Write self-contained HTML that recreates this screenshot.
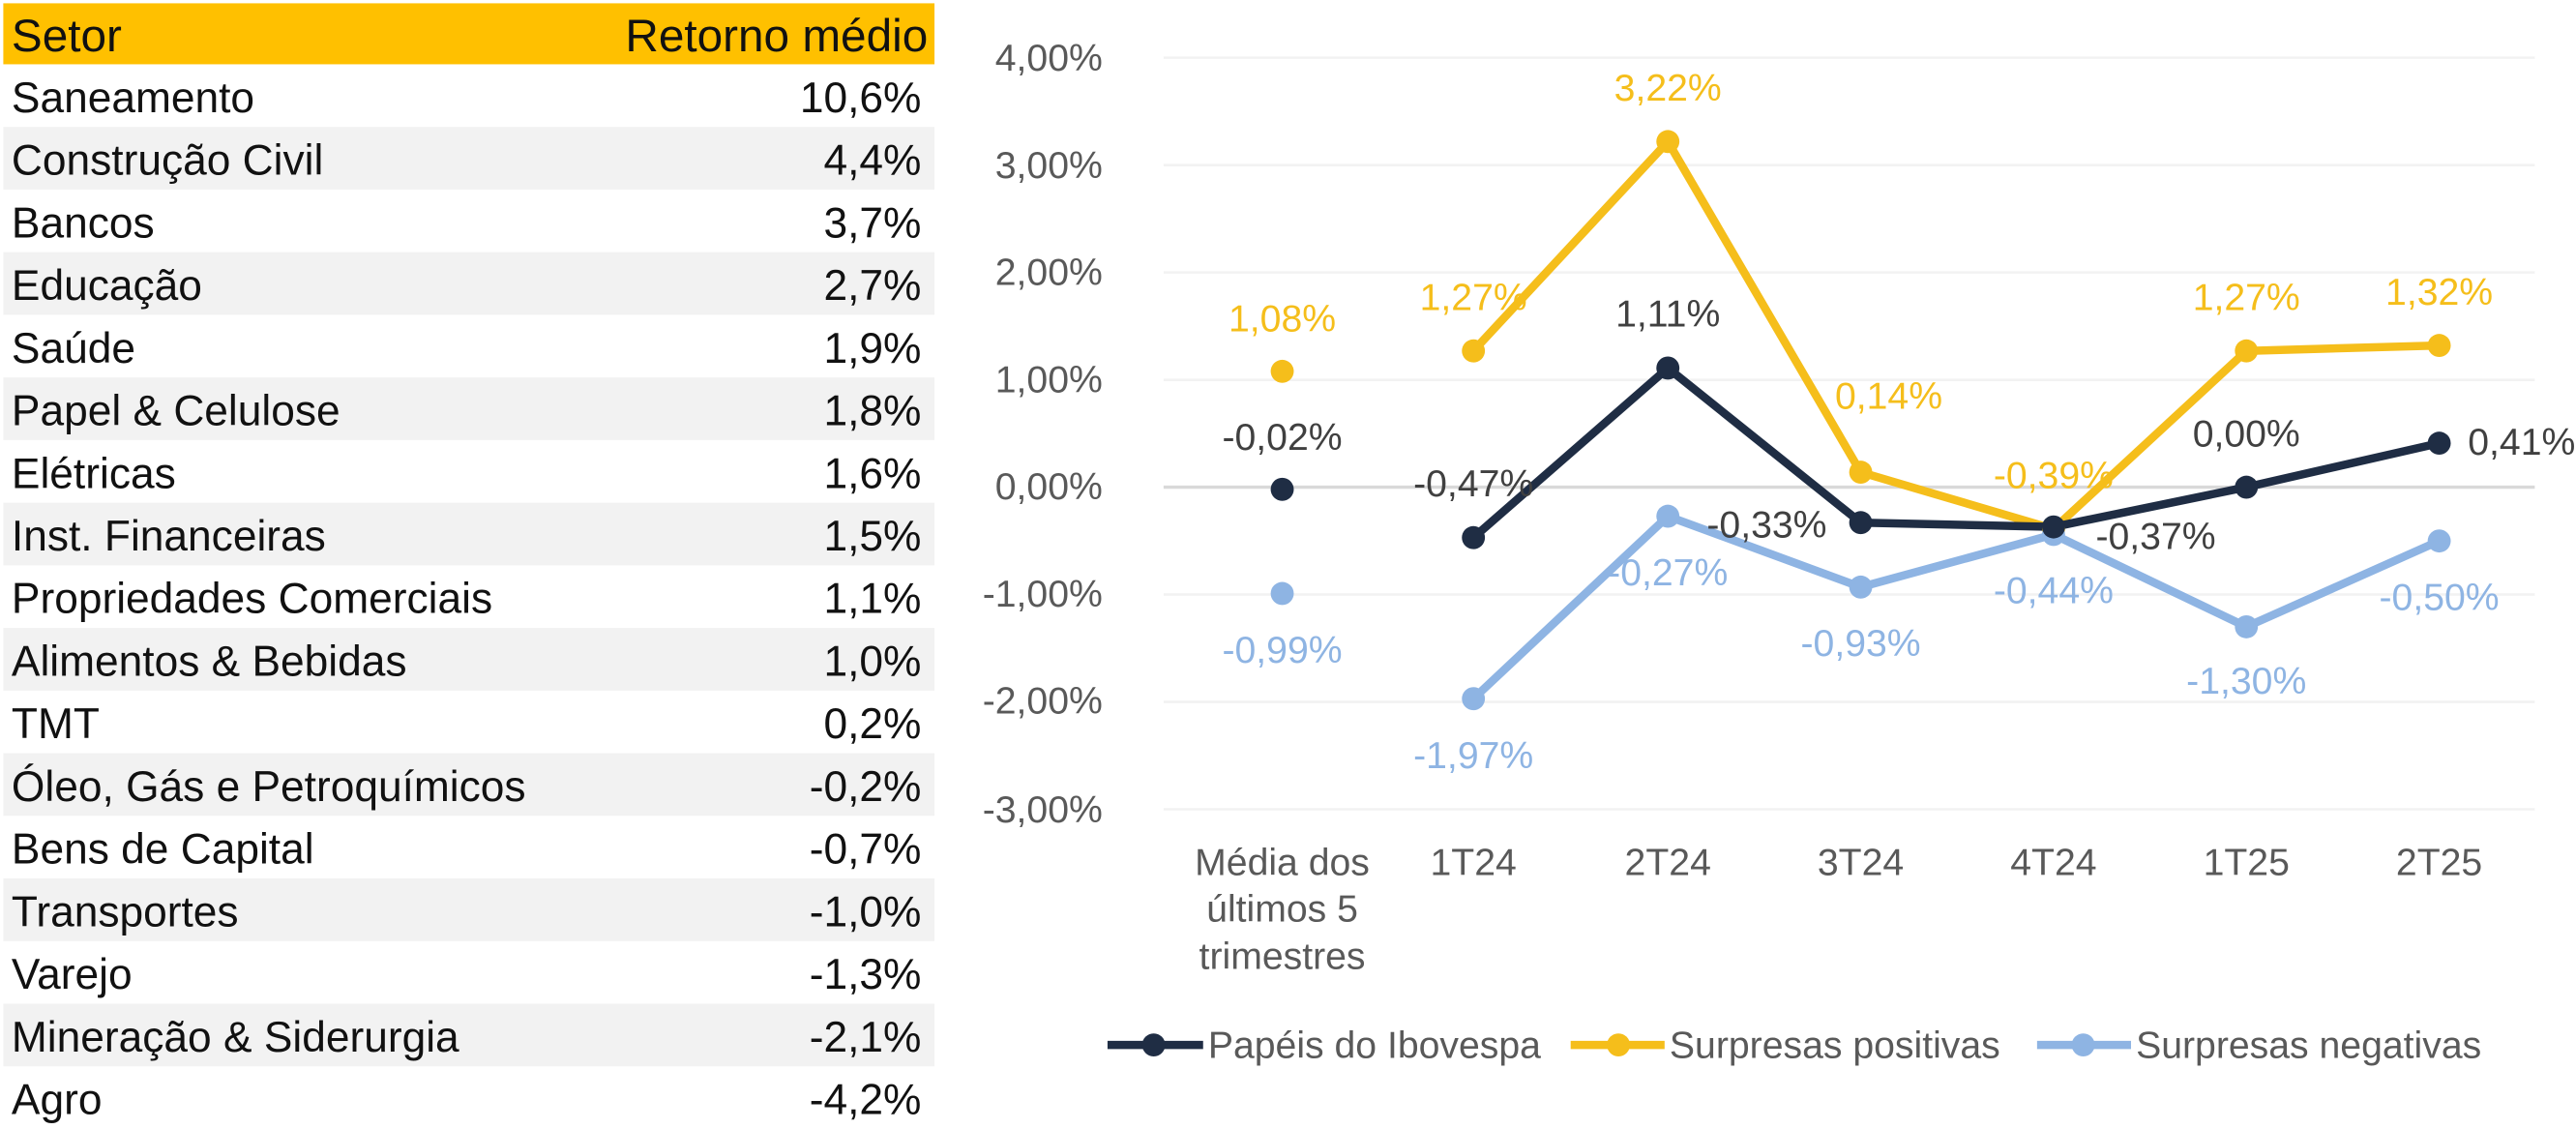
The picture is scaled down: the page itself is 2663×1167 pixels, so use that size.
<!DOCTYPE html>
<html><head><meta charset="utf-8"><style>html,body{margin:0;padding:0;background:#fff}svg{display:block}</style></head>
<body>
<svg width="2663" height="1167" viewBox="0 0 1563 685" preserveAspectRatio="none" xmlns="http://www.w3.org/2000/svg" font-family="Liberation Sans, sans-serif">
<rect x="0" y="0" width="1563" height="685" fill="#fff"/>
<!-- table -->
<rect x="2" y="2" width="565" height="37" fill="#FFC000"/>
<g fill="#F2F2F2">
<rect x="2" y="77" width="565" height="38"/>
<rect x="2" y="153" width="565" height="38"/>
<rect x="2" y="229" width="565" height="38"/>
<rect x="2" y="305" width="565" height="38"/>
<rect x="2" y="381" width="565" height="38"/>
<rect x="2" y="457" width="565" height="38"/>
<rect x="2" y="533" width="565" height="38"/>
<rect x="2" y="609" width="565" height="38"/>
</g>
<g font-size="28" fill="#111">
<text x="7" y="31">Setor</text><text x="563" y="31" text-anchor="end">Retorno médio</text>
</g>
<g font-size="26" fill="#111">
<text x="7" y="68">Saneamento</text>
<text x="7" y="106">Construção Civil</text>
<text x="7" y="144">Bancos</text>
<text x="7" y="182">Educação</text>
<text x="7" y="220">Saúde</text>
<text x="7" y="258">Papel &amp; Celulose</text>
<text x="7" y="296">Elétricas</text>
<text x="7" y="334">Inst. Financeiras</text>
<text x="7" y="372">Propriedades Comerciais</text>
<text x="7" y="410">Alimentos &amp; Bebidas</text>
<text x="7" y="448">TMT</text>
<text x="7" y="486">Óleo, Gás e Petroquímicos</text>
<text x="7" y="524">Bens de Capital</text>
<text x="7" y="562">Transportes</text>
<text x="7" y="600">Varejo</text>
<text x="7" y="638">Mineração &amp; Siderurgia</text>
<text x="7" y="676">Agro</text>
</g>
<g font-size="26" fill="#111" text-anchor="end">
<text x="559" y="68">10,6%</text>
<text x="559" y="106">4,4%</text>
<text x="559" y="144">3,7%</text>
<text x="559" y="182">2,7%</text>
<text x="559" y="220">1,9%</text>
<text x="559" y="258">1,8%</text>
<text x="559" y="296">1,6%</text>
<text x="559" y="334">1,5%</text>
<text x="559" y="372">1,1%</text>
<text x="559" y="410">1,0%</text>
<text x="559" y="448">0,2%</text>
<text x="559" y="486">-0,2%</text>
<text x="559" y="524">-0,7%</text>
<text x="559" y="562">-1,0%</text>
<text x="559" y="600">-1,3%</text>
<text x="559" y="638">-2,1%</text>
<text x="559" y="676">-4,2%</text>
</g>
<!-- chart grid -->
<g stroke="#F2F2F2" stroke-width="1.5">
<line x1="706" x2="1538" y1="35" y2="35"/><line x1="706" x2="1538" y1="100.2" y2="100.2"/>
<line x1="706" x2="1538" y1="165.3" y2="165.3"/><line x1="706" x2="1538" y1="230.5" y2="230.5"/>
<line x1="706" x2="1538" y1="360.7" y2="360.7"/><line x1="706" x2="1538" y1="425.9" y2="425.9"/>
<line x1="706" x2="1538" y1="491" y2="491"/>
</g>
<line x1="706" x2="1538" y1="295.6" y2="295.6" stroke="#D9D9D9" stroke-width="2"/>
<g font-size="23" fill="#595959" text-anchor="end">
<text x="669" y="43">4,00%</text><text x="669" y="108">3,00%</text><text x="669" y="173">2,00%</text>
<text x="669" y="238">1,00%</text><text x="669" y="303">0,00%</text><text x="669" y="368">-1,00%</text>
<text x="669" y="433">-2,00%</text><text x="669" y="499">-3,00%</text>
</g>
<g font-size="23" fill="#595959" text-anchor="middle">
<text x="778" y="531">Média dos</text><text x="778" y="559">últimos 5</text><text x="778" y="588">trimestres</text>
<text x="894" y="531">1T24</text><text x="1012" y="531">2T24</text><text x="1129" y="531">3T24</text>
<text x="1246" y="531">4T24</text><text x="1363" y="531">1T25</text><text x="1480" y="531">2T25</text>
</g>
<!-- series -->
<polyline fill="none" stroke="#F5BE1B" stroke-width="5" stroke-linejoin="round" points="894,212.9 1012,85.9 1129,286.5 1246,321 1363,212.9 1480,209.6"/>
<polyline fill="none" stroke="#8EB4E3" stroke-width="5" stroke-linejoin="round" points="894,423.9 1012,313.2 1129,356.2 1246,324.3 1363,380.3 1480,328.2"/>
<polyline fill="none" stroke="#1F2D44" stroke-width="5" stroke-linejoin="round" points="894,326.2 1012,223.3 1129,317.1 1246,319.7 1363,295.6 1480,268.9"/>
<g fill="#F5BE1B"><circle cx="778" cy="225.3" r="7"/><circle cx="894" cy="212.9" r="7"/><circle cx="1012" cy="85.9" r="7"/><circle cx="1129" cy="286.5" r="7"/><circle cx="1246" cy="321" r="7"/><circle cx="1363" cy="212.9" r="7"/><circle cx="1480" cy="209.6" r="7"/></g>
<g fill="#8EB4E3"><circle cx="778" cy="360.1" r="7"/><circle cx="894" cy="423.9" r="7"/><circle cx="1012" cy="313.2" r="7"/><circle cx="1129" cy="356.2" r="7"/><circle cx="1246" cy="324.3" r="7"/><circle cx="1363" cy="380.3" r="7"/><circle cx="1480" cy="328.2" r="7"/></g>
<g fill="#1F2D44"><circle cx="778" cy="296.9" r="7"/><circle cx="894" cy="326.2" r="7"/><circle cx="1012" cy="223.3" r="7"/><circle cx="1129" cy="317.1" r="7"/><circle cx="1246" cy="319.7" r="7"/><circle cx="1363" cy="295.6" r="7"/><circle cx="1480" cy="268.9" r="7"/></g>
<!-- labels -->
<g font-size="23" text-anchor="middle">
<g fill="#F5BE1B">
<text x="778" y="201">1,08%</text><text x="894" y="188">1,27%</text><text x="1012" y="61">3,22%</text>
<text x="1146" y="248">0,14%</text><text x="1246" y="296">-0,39%</text><text x="1363" y="188">1,27%</text><text x="1480" y="185">1,32%</text>
</g>
<g fill="#404040">
<text x="778" y="273">-0,02%</text><text x="894" y="301">-0,47%</text><text x="1012" y="198">1,11%</text>
<text x="1072" y="326">-0,33%</text><text x="1308" y="333">-0,37%</text><text x="1363" y="271">0,00%</text><text x="1530" y="276">0,41%</text>
</g>
<g fill="#8EB4E3">
<text x="778" y="402">-0,99%</text><text x="894" y="466">-1,97%</text><text x="1012" y="355">-0,27%</text>
<text x="1129" y="398">-0,93%</text><text x="1246" y="366">-0,44%</text><text x="1363" y="421">-1,30%</text><text x="1480" y="370">-0,50%</text>
</g>
</g>
<!-- legend -->
<line x1="672" x2="730" y1="634" y2="634" stroke="#1F2D44" stroke-width="5"/><circle cx="700" cy="634" r="7" fill="#1F2D44"/>
<line x1="953" x2="1010" y1="634" y2="634" stroke="#F5BE1B" stroke-width="5"/><circle cx="982" cy="634" r="7" fill="#F5BE1B"/>
<line x1="1236" x2="1293" y1="634" y2="634" stroke="#8EB4E3" stroke-width="5"/><circle cx="1264" cy="634" r="7" fill="#8EB4E3"/>
<g font-size="23" fill="#595959">
<text x="733" y="642">Papéis do Ibovespa</text><text x="1013" y="642">Surpresas positivas</text><text x="1296" y="642">Surpresas negativas</text>
</g>
</svg>
</body></html>
